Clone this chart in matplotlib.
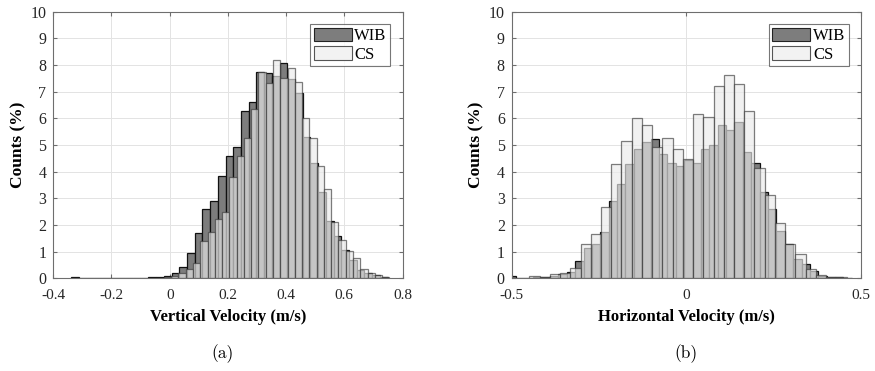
import numpy as np
import matplotlib
matplotlib.use('Agg')
import matplotlib.pyplot as plt
from matplotlib.patches import Patch

# --------------------------------------------------------------------------------------------#
# Histogram data: counts in percent per bin.
# --------------------------------------------------------------------------------------------#
# (a) vertical velocity, CS bins (regular, first edge and width)
vCsStart = -0.02
vCsWidth = 0.025
vCs = [0.03, 0.10, 0.19, 0.34, 0.56, 1.40, 1.75, 2.21, 2.50, 3.79, 4.59, 5.25, 6.34, 7.73,
       7.31, 8.19, 7.50, 7.90, 7.35, 6.03, 5.25, 4.22, 3.35, 2.10, 1.44, 1.04, 0.75, 0.34,
       0.21, 0.11, 0.04]

# (a) vertical velocity, WIB bins
vWibStart = -0.338
vWibWidth = 0.0265
vWib = [0.03, 0.01, 0.00, 0.02, 0.01, 0.02, 0.02, 0.02, 0.01, 0.02, 0.03, 0.04, 0.08, 0.20,
        0.44, 0.94, 1.69, 2.61, 2.90, 3.85, 4.60, 4.91, 6.29, 6.60, 7.73, 7.69, 7.60, 8.06,
        7.46, 6.94, 5.31, 4.31, 3.25, 2.15, 1.60, 1.06, 0.70, 0.31, 0.20, 0.12, 0.05]

# (b) horizontal velocity, CS bins
hCsStart = -0.4495
hCsWidth = 0.0293
hCs = [0.10, 0.06, 0.16, 0.21, 0.40, 1.28, 1.65, 2.66, 4.27, 5.15, 6.00, 5.75, 4.91, 5.28,
       4.86, 4.46, 6.16, 6.06, 7.21, 7.63, 7.29, 6.29, 4.13, 3.12, 2.09, 1.28, 0.90, 0.35,
       0.13, 0.06, 0.03]

# (b) horizontal velocity, WIB bins
hWibStart = -0.5103
hWibWidth = 0.024
hWib = [0.08, 0.01, 0.02, 0.03, 0.05, 0.10, 0.16, 0.25, 0.65, 1.12, 1.27, 1.75, 2.90, 3.53,
        4.28, 4.86, 5.13, 5.22, 4.66, 4.31, 4.21, 4.45, 4.31, 4.86, 5.00, 5.75, 5.56, 5.88,
        4.75, 4.31, 3.25, 2.60, 1.78, 1.28, 0.71, 0.53, 0.28, 0.10, 0.06, 0.04, 0.02]

SeriesNames = ['WIB', 'CS']
xLabels = ['Vertical Velocity (m/s)', 'Horizontal Velocity (m/s)']
Captions = ['(a)', '(b)']
# --------------------------------------------------------------------------------------------#


# --------------------------------------------------------------------------------------------#
# Plot properties.
# --------------------------------------------------------------------------------------------#
FontType = 'Liberation Serif'
WibFace = '#7d7d7d'
CsFace = '#ebebeb'
CsAlpha = 0.66
GridColor = '#e3e3e3'
AxisColor = '#6e6e6e'


def DrawHist(ax, Start, Width, Heights, Face, Edge, Alpha, z):
    Heights = np.asarray(Heights)
    Lefts = Start + Width * np.arange(len(Heights))
    ax.bar(Lefts, Heights, width=Width, align='edge', color=Face, alpha=Alpha,
           edgecolor=Edge, linewidth=0.9, zorder=z)


def StyleAxes(ax, xLim, xTicks, xTickLabels, xLabel):
    ax.set_xlim(xLim)
    ax.set_ylim(0, 10)
    ax.set_xticks(xTicks)
    ax.set_xticklabels(xTickLabels, fontname=FontType, fontsize=11)
    ax.set_yticks(np.arange(0, 11))
    ax.set_yticklabels([str(i) for i in range(11)], fontname=FontType, fontsize=11.5)
    ax.tick_params(direction='in', length=3, top=True, right=True, color=AxisColor,
                   labelcolor='#262626')
    ax.tick_params(axis='x', pad=8)
    ax.tick_params(axis='y', pad=5)
    ax.grid(True, color=GridColor, linewidth=0.7)
    ax.set_axisbelow(True)
    for s in ax.spines.values():
        s.set_color(AxisColor)
        s.set_linewidth(0.8)
    ax.set_xlabel(xLabel, fontname=FontType, fontsize=12, fontweight='bold', labelpad=5)
    ax.set_ylabel('Counts (%)', fontname=FontType, fontsize=12.5, fontweight='bold', labelpad=3)
    Handles = [Patch(facecolor=WibFace, edgecolor='#222222', linewidth=0.8),
               Patch(facecolor='#f2f2f2', edgecolor='#555555', linewidth=0.8)]
    Leg = ax.legend(Handles, SeriesNames, loc='upper right', bbox_to_anchor=(1.0, 1.0),
                    prop={'family': FontType, 'size': 12}, fancybox=False,
                    handlelength=2.3, handleheight=0.9, handletextpad=0.15,
                    labelspacing=0.12, borderpad=0.2, borderaxespad=0.75)
    Leg.get_frame().set_edgecolor('#555555')
    Leg.get_frame().set_linewidth(0.8)


fig = plt.figure(figsize=(8.75, 3.71), dpi=100)
axA = fig.add_axes([0.0609, 0.2499, 0.3991, 0.7186])
axB = fig.add_axes([0.5848, 0.2499, 0.3992, 0.7186])

DrawHist(axA, vWibStart, vWibWidth, vWib, WibFace, '#111111', 1.0, 2)
DrawHist(axA, vCsStart, vCsWidth, vCs, CsFace, '#3a3a3a', CsAlpha, 3)
DrawHist(axB, hWibStart, hWibWidth, hWib, WibFace, '#111111', 1.0, 2)
DrawHist(axB, hCsStart, hCsWidth, hCs, CsFace, '#3a3a3a', CsAlpha, 3)

StyleAxes(axA, (-0.4, 0.8), np.arange(-0.4, 0.81, 0.2),
          ['-0.4', '-0.2', '0', '0.2', '0.4', '0.6', '0.8'], xLabels[0])
StyleAxes(axB, (-0.5, 0.5), [-0.5, 0, 0.5], ['-0.5', '0', '0.5'], xLabels[1])

fig.text(0.254, 0.048, Captions[0], family='cmr10', fontsize=12.5, ha='center', va='center')
fig.text(0.784, 0.048, Captions[1], family='cmr10', fontsize=12.5, ha='center', va='center')

fig.savefig('out.png', dpi=100)
